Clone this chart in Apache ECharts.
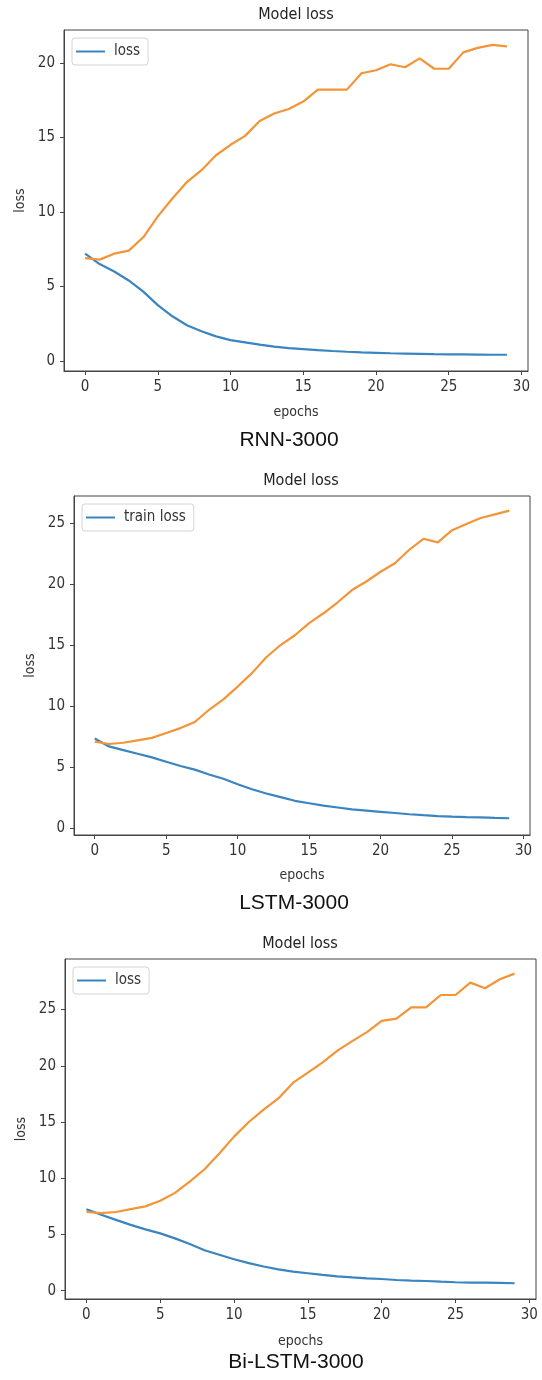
<!DOCTYPE html>
<html>
  <head>
    <meta charset="UTF-8" />
    <title>Model loss</title>
    <script src="https://cdn.jsdelivr.net/npm/echarts@6/dist/echarts.min.js"></script>
    <style>
      body { margin: 0; background: #fff; }
    </style>
  </head>
  <body>
    <div id="lossChart" style="width: 542px; height: 1380px"></div>
  </body>
  <script>
// epochs 0..29
const epochs = [0,1,2,3,4,5,6,7,8,9,10,11,12,13,14,15,16,17,18,19,20,21,22,23,24,25,26,27,28,29];
const xTicks = [0, 5, 10, 15, 20, 25, 30];

// RNN-3000
const rnnTrain = [7.2,6.5,6.0,5.4,4.65,3.75,3.0,2.4,2.0,1.65,1.4,1.25,1.1,0.97,0.86,0.8,0.73,0.67,0.62,0.58,0.55,0.52,0.5,0.48,0.46,0.45,0.44,0.43,0.42,0.42];
const rnnVal = [6.9,6.8,7.2,7.4,8.3,9.7,10.9,12.0,12.8,13.8,14.5,15.1,16.1,16.6,16.9,17.4,18.2,18.2,18.2,19.3,19.5,19.9,19.7,20.3,19.6,19.6,20.7,21.0,21.2,21.1];
const rnnTicks = [0, 5, 10, 15, 20];

// LSTM-3000
const lstmTrain = [7.35,6.7,6.4,6.1,5.8,5.45,5.1,4.8,4.4,4.05,3.6,3.2,2.85,2.55,2.25,2.05,1.85,1.7,1.55,1.45,1.35,1.25,1.15,1.07,1.0,0.95,0.92,0.9,0.85,0.82];
const lstmVal = [7.1,6.9,7.0,7.2,7.4,7.8,8.2,8.7,9.7,10.55,11.6,12.7,14.0,15.0,15.8,16.8,17.6,18.5,19.5,20.2,21.0,21.7,22.8,23.7,23.4,24.4,24.9,25.4,25.7,26.0];
const lstmTicks = [0, 5, 10, 15, 20, 25];

// Bi-LSTM-3000
const biTrain = [7.25,6.75,6.3,5.85,5.45,5.1,4.65,4.15,3.6,3.2,2.8,2.45,2.15,1.9,1.7,1.55,1.4,1.28,1.18,1.1,1.04,0.95,0.9,0.86,0.8,0.75,0.72,0.71,0.69,0.66];
const biVal = [7.0,6.9,7.0,7.25,7.5,8.0,8.7,9.7,10.8,12.2,13.7,15.0,16.1,17.1,18.5,19.4,20.3,21.35,22.2,23.0,24.0,24.2,25.2,25.2,26.3,26.3,27.4,26.9,27.7,28.2];
const biTicks = [0, 5, 10, 15, 20, 25];

const blue = '#3a85c0';
const orange = '#f39536';
const condensed = '"DejaVu Sans Condensed", "DejaVu Sans", sans-serif';

const panels = [
  { grid: { left: 64, right: 14, top: 30, height: 341 }, yMin: -0.67, yMax: 22.2, yTicks: rnnTicks,
    train: rnnTrain, val: rnnVal, legendName: 'loss', nameGapY: 32,
    title: 'Model loss', titleX: 296, titleY: 15, caption: 'RNN-3000', capX: 289, capY: 440, epochsGap: 34 },
  { grid: { left: 74, right: 12, top: 496, height: 339 }, yMin: -0.55, yMax: 27.2, yTicks: lstmTicks,
    train: lstmTrain, val: lstmVal, legendName: 'train loss', nameGapY: 31,
    title: 'Model loss', titleX: 301, titleY: 481, caption: 'LSTM-3000', capX: 294, capY: 903, epochsGap: 33 },
  { grid: { left: 65, right: 6, top: 959, height: 340 }, yMin: -0.74, yMax: 29.5, yTicks: biTicks,
    train: biTrain, val: biVal, legendName: 'loss', nameGapY: 33,
    title: 'Model loss', titleX: 300, titleY: 944, caption: 'Bi-LSTM-3000', capX: 296, capY: 1362, epochsGap: 35 }
];

const tickFont = { color: '#333', fontSize: 15, fontFamily: condensed };

let grids = [], xAxes = [], yAxes = [], series = [], legends = [], graphics = [];

panels.forEach((p, i) => {
  grids.push(Object.assign({ show: true, borderColor: '#444', borderWidth: 1, backgroundColor: '#fff' }, p.grid));

  xAxes.push({
    type: 'value', gridIndex: i, min: -1.45, max: 30.45,
    name: 'epochs', nameLocation: 'middle', nameGap: p.epochsGap,
    nameTextStyle: { color: '#333', fontSize: 14, fontFamily: condensed },
    axisLine: { show: true, onZero: false, lineStyle: { color: '#444', width: 1 } },
    axisTick: { show: true, length: 4, customValues: xTicks, lineStyle: { color: '#444' } },
    axisLabel: Object.assign({ customValues: xTicks, margin: 9 }, tickFont),
    splitLine: { show: false }
  });

  yAxes.push({
    type: 'value', gridIndex: i, min: p.yMin, max: p.yMax,
    name: 'loss', nameLocation: 'middle', nameGap: p.nameGapY, nameRotate: 90,
    nameTextStyle: { color: '#333', fontSize: 14, fontFamily: condensed },
    axisLine: { show: true, onZero: false, lineStyle: { color: '#444', width: 1 } },
    axisTick: { show: true, length: 4, customValues: p.yTicks, lineStyle: { color: '#444' } },
    axisLabel: Object.assign({ customValues: p.yTicks, margin: 9 }, tickFont),
    splitLine: { show: false }
  });

  series.push({
    name: p.legendName, type: 'line', xAxisIndex: i, yAxisIndex: i,
    data: epochs.map((e, k) => [e, p.train[k]]),
    showSymbol: false, symbol: 'none',
    lineStyle: { color: blue, width: 2.2 }, itemStyle: { color: blue }
  });
  series.push({
    name: 'val loss ' + i, type: 'line', xAxisIndex: i, yAxisIndex: i,
    data: epochs.map((e, k) => [e, p.val[k]]),
    showSymbol: false, symbol: 'none',
    lineStyle: { color: orange, width: 2.2 }, itemStyle: { color: orange }
  });

  legends.push({
    data: [p.legendName], left: p.grid.left + 8, top: p.grid.top + 8,
    orient: 'vertical', icon: 'rect', itemWidth: 29, itemHeight: 2, itemGap: 6,
    padding: [6, 8, 6, 4], borderColor: '#d4d4d4', borderWidth: 1, borderRadius: 3,
    backgroundColor: 'rgba(255,255,255,0.8)', selectedMode: false,
    textStyle: { color: '#333', fontSize: 15, fontFamily: condensed, padding: [0, 0, 0, 4] }
  });

  graphics.push({
    type: 'text', x: p.titleX, y: p.titleY,
    style: { text: p.title, align: 'center', verticalAlign: 'middle', fill: '#222', font: '16px "DejaVu Sans Condensed", "DejaVu Sans"' }
  });
  graphics.push({
    type: 'text', x: p.capX, y: p.capY,
    style: { text: p.caption, align: 'center', verticalAlign: 'middle', fill: '#111', font: '21px "Liberation Sans"' }
  });
});

let myChart = echarts.init(document.getElementById('lossChart'));
myChart.setOption({
  animation: false,
  backgroundColor: '#fff',
  grid: grids,
  xAxis: xAxes,
  yAxis: yAxes,
  legend: legends,
  series: series,
  graphic: graphics
});
  </script>
</html>
